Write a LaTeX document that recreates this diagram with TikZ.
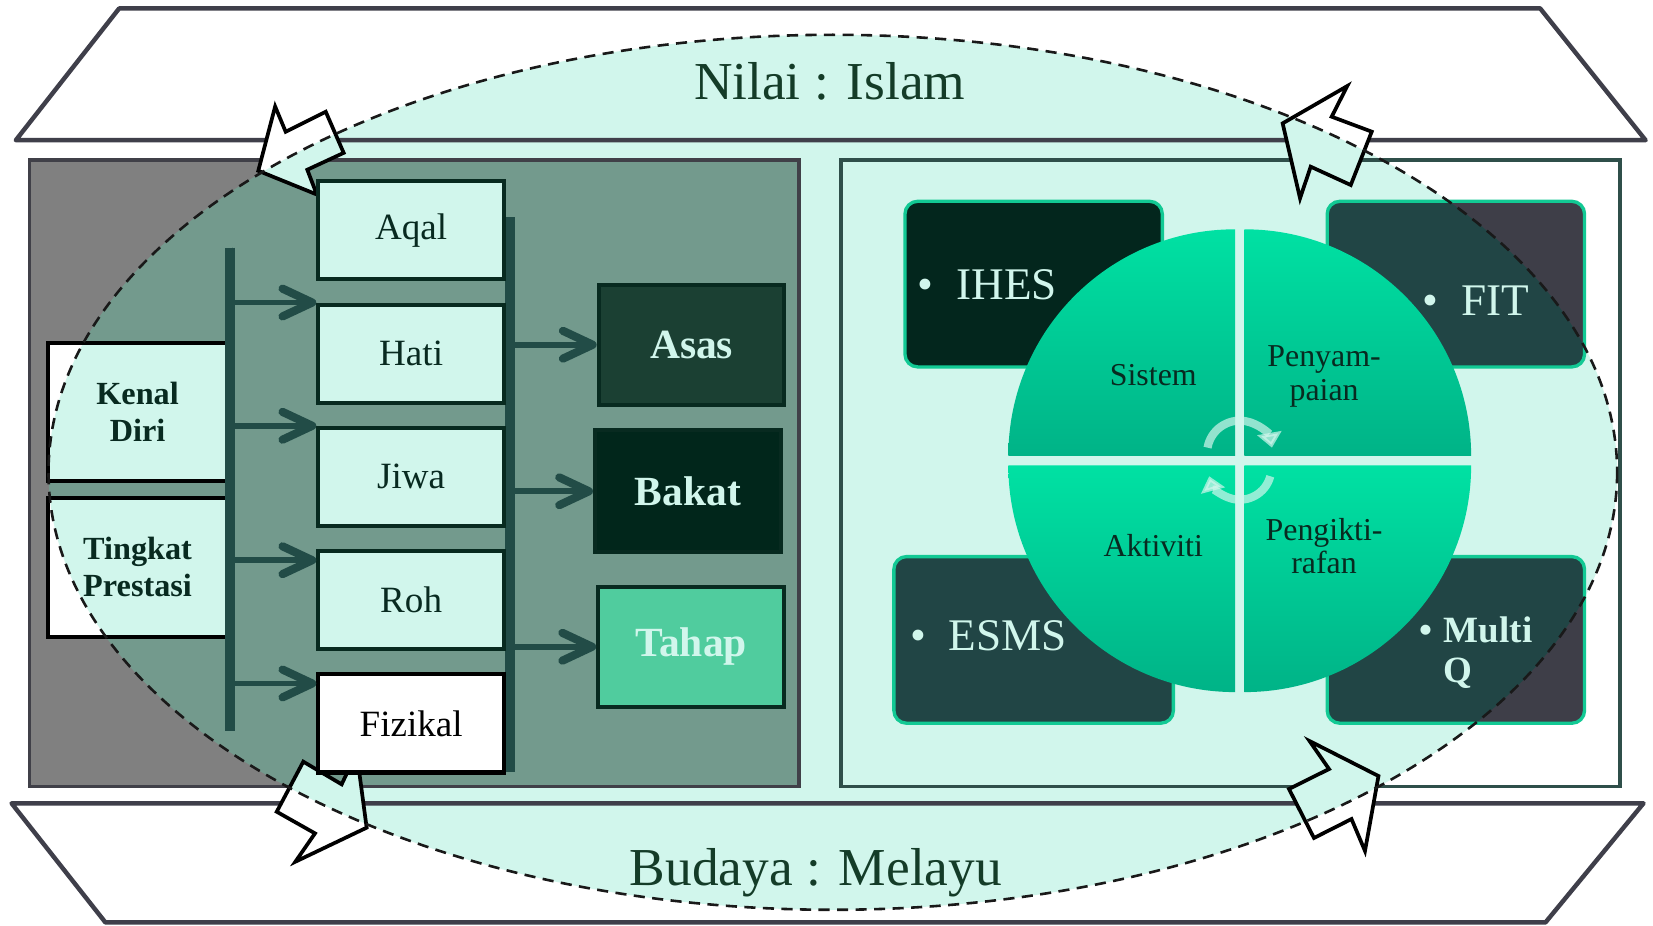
\documentclass[tikz,border=0pt]{standalone}
\usepackage{fontspec}
\setmainfont{Liberation Serif}
\usetikzlibrary{arrows.meta, positioning}

\definecolor{mint}{HTML}{D1F6EC}
\definecolor{panelgray}{HTML}{808080}
\definecolor{paneltint}{HTML}{739A8D}
\definecolor{paneledge}{HTML}{404048}
\definecolor{rightedge}{HTML}{2F4F4A}
\definecolor{roofedge}{HTML}{3F3F4A}
\definecolor{busgreen}{HTML}{224C47}
\definecolor{boxedge}{HTML}{082A20}
\definecolor{titlegreen}{HTML}{143C28}
\definecolor{asasfill}{HTML}{1B4033}
\definecolor{bakatfill}{HTML}{01261B}
\definecolor{tahapfill}{HTML}{50CC9E}
\definecolor{ihesfill}{HTML}{03261D}
\definecolor{tealbox}{HTML}{214545}
\definecolor{hatchgray}{HTML}{3E3E48}
\definecolor{glow}{HTML}{12C994}
\definecolor{pietop}{HTML}{00E1A3}
\definecolor{piebottom}{HTML}{00B387}

% the dashed value ring, and a fill that changes colour inside it
\newcommand{\ringpath}{(790,448) ellipse [x radius=744, y radius=415]}
\newcommand{\twotone}[4][draw=none]{%
  \begin{scope}
    \clip #2;
    \fill[#3] #2;
    \fill[#4] \ringpath;
  \end{scope}
  \path[#1] #2;}

\begin{document}
\begin{tikzpicture}[x=0.01cm, y=-0.01cm, node distance=0.2cm,
    roof/.style={draw=roofedge, line width=1.2pt, line join=round},
    panel/.style={draw=paneledge, line width=1pt},
    blockedge/.style={draw=black, line width=1pt},
    ringedge/.style={draw=black!90, line width=0.7pt, dash pattern=on 3pt off 2pt},
    bandtitle/.style={text=titlegreen, font=\fontsize{14.4pt}{17pt}\selectfont},
    selfbox/.style={draw=black, line width=1.1pt, minimum width=1.69cm, minimum height=1.31cm, align=center, text=boxedge, font=\bfseries\fontsize{8.7pt}{10pt}\selectfont},
    cell/.style={draw=boxedge, line width=1.1pt, fill=mint, minimum width=1.76cm, minimum height=0.93cm, text=boxedge, font=\fontsize{10pt}{12pt}\selectfont},
    goal/.style={draw=boxedge, line width=1.1pt, minimum width=1.76cm, minimum height=1.14cm, text=mint, font=\bfseries\fontsize{11.2pt}{13pt}\selectfont},
    bus/.style={draw=busgreen, line width=2.7pt},
    busarrow/.style={draw=busgreen, line width=1.5pt, -{Straight Barb[length=8pt, width=7.5pt, line width=2.2pt, round]}},
    tool/.style={draw=glow, line width=0.9pt, rounded corners=0.12cm, minimum width=2.44cm, minimum height=1.57cm},
    tooltext/.style={anchor=west, inner sep=0pt, text=mint, font=\fontsize{12.2pt}{14pt}\selectfont},
    quarter/.style={top color=pietop, bottom color=piebottom},
    quartertext/.style={align=center, text=boxedge, font=\fontsize{8.6pt}{9pt}\selectfont},
    cyclearrow/.style={draw=mint, opacity=0.7, line width=2.2pt, -{Triangle[length=4pt, width=6.5pt]}}]

    % Backdrop and ring
    \path[use as bounding box, fill=white] (0,0) rectangle (1568,878);
    \fill[mint] \ringpath;

    % Bands
    \draw[roof] (113,8) -- (1461,8) -- (1561,133) -- (15,133) -- cycle;
    \draw[roof] (11,762) -- (1559,762) -- (1466,875) -- (100,875) -- cycle;
    \node[bandtitle] (nilai) at (787,77) {Nilai : Islam};
    \node[bandtitle] (budaya) at (774,828) {Budaya : Melayu};

    % Panels
    \twotone[panel]{(28,152) rectangle (758,746)}{panelgray}{paneltint}
    \draw[panel, draw=rightedge] (798,152) rectangle (1537,746);

    % Block arrows round the ring
    \twotone[blockedge]{(245,162) -- (261,101) -- (271,125) -- (309,106) -- (326,145) -- (291.5,161) -- (300.5,184.5) -- cycle}{white}{mint}
    \twotone[blockedge]{(1278,81.6) -- (1263.2,110.7) -- (1301.2,124.9) -- (1281.3,175.5) -- (1243.3,158.1) -- (1233.2,188.1) -- (1216.7,117) -- cycle}{white}{mint}
    \twotone[blockedge]{(287.7,722.5) -- (324.1,744) -- (338.3,713.8) -- (347.8,785.1) -- (280.2,817.4) -- (298.8,790.5) -- (262.5,770) -- cycle}{white}{mint}
    \twotone[blockedge]{(1242.2,702.9) -- (1260.7,729.5) -- (1222.7,748.4) -- (1246.4,794.9) -- (1282,776.9) -- (1294.8,807.2) -- (1307.6,736.1) -- cycle}{white}{mint}

    % Left column
    \twotone{(46,325) rectangle (215,456)}{white}{mint}
    \twotone{(46,472) rectangle (215,604)}{white}{mint}
    \node[selfbox] (kenal) at (130.5,390.5) {Kenal\\Diri};
    \node[selfbox, minimum height=1.32cm] (tingkat) at (130.5,538) {Tingkat\\Prestasi};

    \coordinate (lbus) at (218,235);
    \coordinate (lbus end) at (218,693);
    \coordinate (rbus) at (484,206);
    \coordinate (rbus end) at (484,732);
    \draw[bus] (lbus) -- (lbus end);
    \draw[bus] (rbus) -- (rbus end);

    \node[cell] (aqal) at (390,218.5) {Aqal};
    \node[cell, below=of aqal] (hati) {Hati};
    \node[cell, below=of hati] (jiwa) {Jiwa};
    \node[cell, below=of jiwa] (roh) {Roh};
    \node[cell, below=of roh, fill=white, draw=black, text=black] (fizikal) {Fizikal};

    \node[goal, fill=asasfill] (asas) at (656,327) {Asas};
    \node[goal, fill=bakatfill, minimum height=1.16cm] (bakat) at (652.5,466) {Bakat};
    \node[goal, fill=tahapfill] (tahap) at (655.5,613.5) {Tahap};

    % Arrows
    \draw[busarrow] (lbus) |- (hati.north west);
    \draw[busarrow] (lbus) |- (jiwa.north west);
    \draw[busarrow] (lbus) |- ([yshift=-3pt]roh.north west);
    \draw[busarrow] (lbus) |- ([yshift=-3pt]fizikal.north west);
    \draw[busarrow] (rbus) |- (asas.west);
    \draw[busarrow] (rbus) |- (bakat.west);
    \draw[busarrow] (rbus) |- (tahap.west);

    % Right panel
    \twotone{[rounded corners=0.12cm] (1259,191) rectangle (1503,348)}{hatchgray}{tealbox}
    \twotone{[rounded corners=0.12cm] (1259,528) rectangle (1503,686)}{hatchgray}{tealbox}
    \node[tool, fill=ihesfill] (ihes) at (980.5,269.5) {};
    \node[tool] (fit) at (1381,269.5) {};
    \node[tool, fill=tealbox, minimum width=2.65cm, minimum height=1.58cm] (esms) at (980.5,607) {};
    \node[tool, minimum height=1.58cm] (multiq) at (1381,607) {};
    \node[tooltext] (ihes text) at (870,270) {\textbullet\hspace{.5em}IHES};
    \node[tooltext] (fit text) at (1349,285) {\textbullet\hspace{.5em}FIT};
    \node[tooltext] (esms text) at (863,603) {\textbullet\hspace{.5em}ESMS};
    \node[tooltext, anchor=base west, font=\bfseries\fontsize{10pt}{10.8pt}\selectfont] (multiq text) at (1346,609)
        {\textbullet\hspace{.3em}\begin{tabular}[t]{@{}l@{}}Multi\\Q\end{tabular}};

    \path[quarter] (1171.5,432.5) -- ++(-215,0) arc [start angle=180, end angle=270, radius=215] -- cycle;
    \path[quarter] (1180.5,432.5) -- ++(0,-215) arc [start angle=270, end angle=360, radius=215] -- cycle;
    \path[quarter] (1180.5,441.5) -- ++(215,0) arc [start angle=0, end angle=90, radius=215] -- cycle;
    \path[quarter] (1171.5,441.5) -- ++(0,215) arc [start angle=90, end angle=180, radius=215] -- cycle;
    \node[quartertext] (sistem) at (1094,356) {Sistem};
    \node[quartertext] (penyampaian) at (1256,357) {Penyam-\\paian};
    \node[quartertext] (aktiviti) at (1094,518) {Aktiviti};
    \node[quartertext] (pengiktirafan) at (1256,518) {Pengikti-\\rafan};
    \draw[cyclearrow] (1176,430) ++(190:31) arc [start angle=190, end angle=350, radius=31];
    \draw[cyclearrow] (1176,444) ++(15:30) arc [start angle=15, end angle=165, radius=30];

    % Ring outline
    \draw[ringedge] \ringpath;
\end{tikzpicture}
\end{document}
